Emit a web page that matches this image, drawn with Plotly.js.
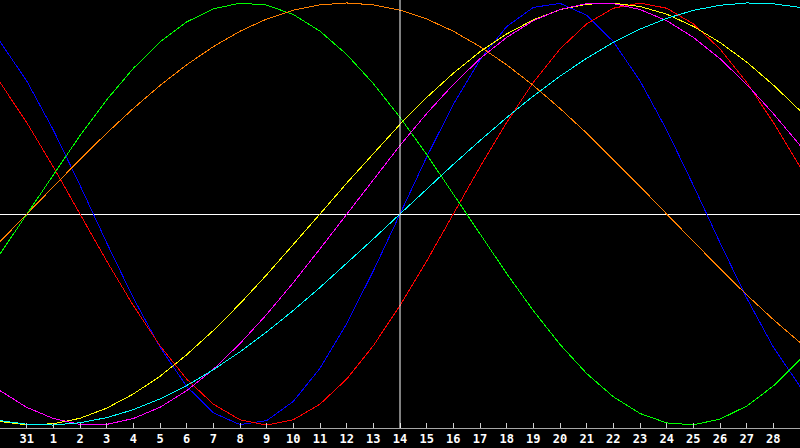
<!DOCTYPE html>
<html>
<head>
<meta charset="utf-8">
<script src="https://cdn.plot.ly/plotly-3.0.1.min.js"></script>
<style>
  html, body { margin: 0 ; padding: 0 ; background: #000 ; }
  #plotly { width: 800px ; height: 448px ; }
  .scatterlayer .js-line { shape-rendering: crispEdges ; }
</style>
</head>
<body>
<div id="plotly"></div>
<script>
// day labels under the chart (index 1 .. 29), today sits at index 15 ("14")
var dayLabels = ['31','1','2','3','4','5','6','7','8','9','10','11','12','13','14',
                 '15','16','17','18','19','20','21','22','23','24','25','26','27','28'] ;
var todayIdx = 15 ;

// values per day, index 0 .. 30 (-100 .. 100)
var physical = [81.7, 63.1, 39.8, 13.6, -13.6, -39.8, -63.1, -81.7, -94.2, -99.8, -97.9,
  -88.8, -73.1, -52.0, -27.0, 0, 27.0, 52.0, 73.1, 88.8, 97.9, 99.8, 94.2, 81.7, 63.1,
  39.8, 13.6, -13.6, -39.8, -63.1, -81.7] ;
var emotional = [62.4, 43.4, 22.3, 0, -22.3, -43.4, -62.4, -78.2, -90.1, -97.5, -100,
  -97.5, -90.1, -78.2, -62.4, -43.4, -22.3, 0, 22.3, 43.4, 62.4, 78.2, 90.1, 97.5, 100,
  97.5, 90.1, 78.2, 62.4, 43.4, 22.3] ;
var intellectual = [-18.9, 0, 18.9, 37.2, 54.1, 69.0, 81.5, 91.0, 97.2, 99.9, 99.0,
  94.5, 86.6, 75.6, 61.8, 45.8, 28.2, 9.5, -9.5, -28.2, -45.8, -61.8, -75.6, -86.6, -94.5,
  -99.0, -99.9, -97.2, -91.0, -81.5, -69.0] ;
var awareness = [-13.1, 0, 13.1, 25.9, 38.3, 50.0, 60.9, 70.7, 79.3, 86.6, 92.4,
  96.6, 99.1, 100, 99.1, 96.6, 92.4, 86.6, 79.3, 70.7, 60.9, 50.0, 38.3, 25.9, 13.1,
  0, -13.1, -25.9, -38.3, -50.0, -60.9] ;
var aesthetic = [-98.3, -99.9, -99.4, -96.8, -92.0, -85.3, -76.9, -66.7, -55.2, -42.5, -28.8,
  -14.6, 0, 14.6, 28.8, 42.5, 55.2, 66.7, 76.9, 85.3, 92.0, 96.8, 99.4, 99.9, 98.3,
  94.7, 88.9, 81.3, 72.0, 61.1, 49.0] ;
var intuitive = [-83.7, -91.6, -96.9, -99.7, -99.7, -96.9, -91.6, -83.7, -73.6, -61.4, -47.6,
  -32.5, -16.5, 0, 16.5, 32.5, 47.6, 61.4, 73.6, 83.7, 91.6, 96.9, 99.7, 99.7, 96.9,
  91.6, 83.7, 73.6, 61.4, 47.6, 32.5] ;
var spiritual = [-97.9, -99.6, -100.0, -98.9, -96.5, -92.7, -87.6, -81.3, -73.8, -65.3, -55.9,
  -45.7, -34.8, -23.5, -11.8, 0, 11.8, 23.5, 34.8, 45.7, 55.9, 65.3, 73.8, 81.3, 87.6,
  92.7, 96.5, 98.9, 100.0, 99.6, 97.9] ;

var seriesList = [physical, emotional, intellectual, awareness, aesthetic, intuitive, spiritual] ;
var seriesNames = ['Physical', 'Emotional', 'Intellectual', 'Awareness', 'Aesthetic', 'Intuitive', 'Spiritual'] ;
var seriesColors = ['#0000ff', '#ff0000', '#00ff00', '#ff8000', '#ffff00', '#ff00ff', '#00ffff'] ;

function plotChart() {
  var traces = [] ;
  for (var s = 0 ; s < seriesList.length ; s++) {
    var xs = [] ;
    for (var i = 0 ; i < seriesList[s].length ; i++) xs.push(i) ;
    traces.push({
      x: xs,
      y: seriesList[s],
      mode: 'lines',
      line: {color: seriesColors[s], width: 1},
      name: seriesNames[s],
      type: 'scatter' }) ;
  }

  var tickVals = [] ;
  for (var t = 0 ; t < dayLabels.length ; t++) tickVals.push(t + 1) ;

  var layout = {
    width: 800, height: 448,
    margin: {l: 0, r: 0, t: 0, b: 20, pad: 0},
    paper_bgcolor: '#000000',
    plot_bgcolor: '#000000',
    showlegend: false,
    xaxis: {
      range: [0, 30], fixedrange: true,
      tickvals: tickVals, ticktext: dayLabels,
      ticks: 'inside', ticklen: 5, tickwidth: 1, tickcolor: '#d0d0d0',
      showgrid: false, zeroline: false,
      showline: true, linecolor: '#a8a8a8', linewidth: 1, mirror: true,
      tickfont: {family: 'DejaVu Sans Mono', size: 12, color: '#ffffff', weight: 'bold'}
    },
    yaxis: {
      range: [-101.4, 101.4], fixedrange: true,
      showticklabels: false, ticks: '', showgrid: false,
      zeroline: true, zerolinecolor: '#ffffff', zerolinewidth: 1,
      showline: true, linecolor: '#a8a8a8', linewidth: 1, mirror: true
    },
    shapes: [{
      type: 'line', xref: 'x', yref: 'paper',
      x0: todayIdx, x1: todayIdx, y0: 0, y1: 1,
      line: {color: '#ffffff', width: 1} }]
  } ;

  Plotly.newPlot('plotly', traces, layout, {staticPlot: true, displayModeBar: false}) ;
}
plotChart() ;
</script>
</body>
</html>
